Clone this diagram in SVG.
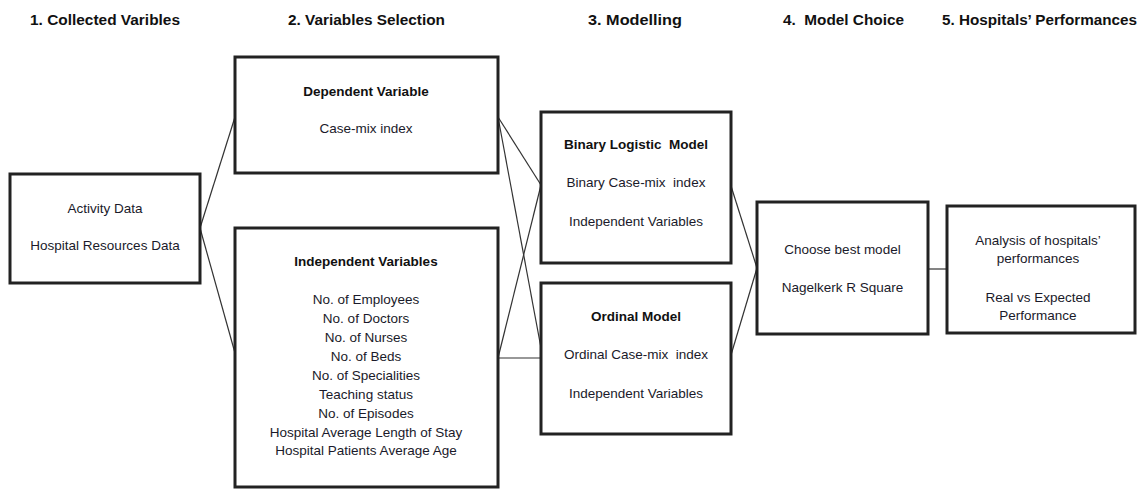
<svg xmlns="http://www.w3.org/2000/svg" width="1140" height="489" viewBox="0 0 1140 489">
<style>
.box{fill:#fff;stroke:#222;stroke-width:3}
.hd{font-family:"Liberation Sans",Arial,sans-serif;font-weight:bold;font-size:14.5px;fill:#111;text-anchor:middle}
.t{font-family:"Liberation Sans",Arial,sans-serif;font-size:13.5px;fill:#1a1a2a;text-anchor:middle}
.b{font-family:"Liberation Sans",Arial,sans-serif;font-size:13.5px;font-weight:bold;fill:#111;text-anchor:middle}
.c{stroke:#333;stroke-width:1.2;fill:none}
</style>
<rect width="1140" height="489" fill="#fff"/>
<g id="headers">
<text class="hd" x="105" y="25" textLength="150" lengthAdjust="spacingAndGlyphs">1. Collected Varibles</text>
<text class="hd" x="366.5" y="25" textLength="157" lengthAdjust="spacingAndGlyphs">2. Variables Selection</text>
<text class="hd" x="635" y="25" textLength="94" lengthAdjust="spacingAndGlyphs">3. Modelling</text>
<text class="hd" x="843.5" y="25" textLength="121" lengthAdjust="spacingAndGlyphs" xml:space="preserve">4.  Model Choice</text>
<text class="hd" x="1039.5" y="25" textLength="195" lengthAdjust="spacingAndGlyphs">5. Hospitals’ Performances</text>
</g>
<g id="connectors">
<line class="c" x1="200" y1="228" x2="235" y2="117"/>
<line class="c" x1="200" y1="228" x2="235" y2="353"/>
<line class="c" x1="498" y1="117" x2="541" y2="185"/>
<line class="c" x1="498" y1="117" x2="541" y2="348"/>
<line class="c" x1="498" y1="358" x2="541" y2="185"/>
<line class="c" x1="498" y1="358" x2="541" y2="358"/>
<line class="c" x1="731" y1="186" x2="757" y2="268"/>
<line class="c" x1="731" y1="355" x2="757" y2="268"/>
<line class="c" x1="928" y1="269" x2="947" y2="269"/>
</g>
<g id="collected">
<rect class="box" x="10" y="174" width="190" height="109"/>
<text class="t" x="105" y="213">Activity Data</text>
<text class="t" x="105" y="250">Hospital Resources Data</text>
</g>
<g id="dependent">
<rect class="box" x="235" y="57" width="263" height="116"/>
<text class="b" x="366" y="96">Dependent Variable</text>
<text class="t" x="366" y="133">Case-mix index</text>
</g>
<g id="independent">
<rect class="box" x="235" y="228" width="263" height="259"/>
<text class="b" x="366" y="266">Independent Variables</text>
<text class="t" x="366" y="304">No. of Employees</text>
<text class="t" x="366" y="323">No. of Doctors</text>
<text class="t" x="366" y="342">No. of Nurses</text>
<text class="t" x="366" y="361">No. of Beds</text>
<text class="t" x="366" y="380">No. of Specialities</text>
<text class="t" x="366" y="399">Teaching status</text>
<text class="t" x="366" y="418">No. of Episodes</text>
<text class="t" x="366" y="437">Hospital Average Length of Stay</text>
<text class="t" x="366" y="455">Hospital Patients Average Age</text>
</g>
<g id="binary">
<rect class="box" x="541" y="112" width="190" height="151"/>
<text class="b" x="636" y="149" xml:space="preserve">Binary Logistic  Model</text>
<text class="t" x="636" y="187" xml:space="preserve">Binary Case-mix  index</text>
<text class="t" x="636" y="226">Independent Variables</text>
</g>
<g id="ordinal">
<rect class="box" x="541" y="283" width="190" height="151"/>
<text class="b" x="636" y="321">Ordinal Model</text>
<text class="t" x="636" y="359" xml:space="preserve">Ordinal Case-mix  index</text>
<text class="t" x="636" y="398">Independent Variables</text>
</g>
<g id="choice">
<rect class="box" x="757" y="202" width="171" height="132"/>
<text class="t" x="842.5" y="254">Choose best model</text>
<text class="t" x="842.5" y="292">Nagelkerk R Square</text>
</g>
<g id="performance">
<rect class="box" x="947" y="206" width="188" height="127"/>
<text class="t" x="1038" y="245">Analysis of hospitals’</text>
<text class="t" x="1038" y="263">performances</text>
<text class="t" x="1038" y="302">Real vs Expected</text>
<text class="t" x="1038" y="320">Performance</text>
</g>
</svg>
